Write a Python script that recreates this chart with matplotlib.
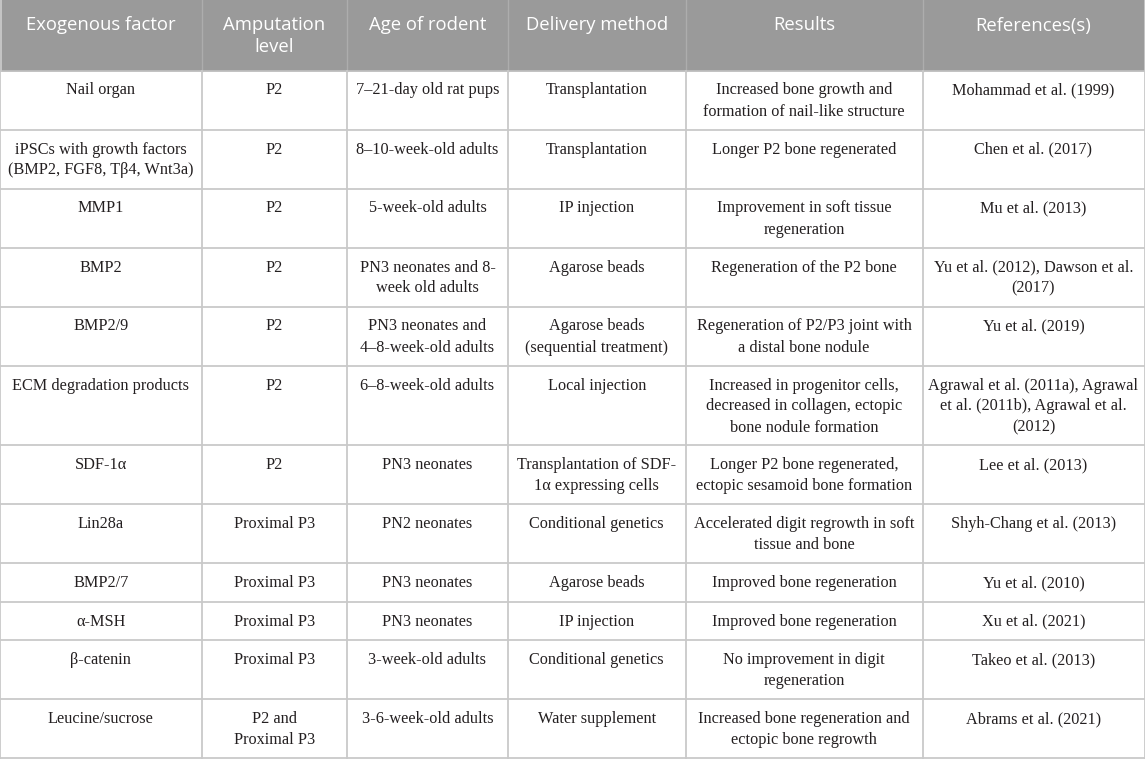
import matplotlib.pyplot as plt

# --- table content ---
headers = ["Exogenous factor", "Amputation\nlevel", "Age of rodent",
           "Delivery method", "Results", "References(s)"]

factors = ["Nail organ", "iPSCs with growth factors\n(BMP2, FGF8, Tβ4, Wnt3a)", "MMP1",
           "BMP2", "BMP2/9", "ECM degradation products", "SDF-1α", "Lin28a",
           "BMP2/7", "α-MSH", "β-catenin", "Leucine/sucrose"]
levels = ["P2", "P2", "P2", "P2", "P2", "P2", "P2", "Proximal P3", "Proximal P3",
          "Proximal P3", "Proximal P3", "P2 and\nProximal P3"]
ages = ["7–21-day old rat pups", "8–10-week-old adults", "5-week-old adults",
        "PN3 neonates and 8-\nweek old adults", "PN3 neonates and\n4–8-week-old adults",
        "6–8-week-old adults", "PN3 neonates", "PN2 neonates", "PN3 neonates",
        "PN3 neonates", "3-week-old adults", "3-6-week-old adults"]
delivery = ["Transplantation", "Transplantation", "IP injection", "Agarose beads",
            "Agarose beads\n(sequential treatment)", "Local injection",
            "Transplantation of SDF-\n1α expressing cells", "Conditional genetics",
            "Agarose beads", "IP injection", "Conditional genetics", "Water supplement"]
results = ["Increased bone growth and\nformation of nail-like structure",
           "Longer P2 bone regenerated",
           "Improvement in soft tissue\nregeneration",
           "Regeneration of the P2 bone",
           "Regeneration of P2/P3 joint with\na distal bone nodule",
           "Increased in progenitor cells,\ndecreased in collagen, ectopic\nbone nodule formation",
           "Longer P2 bone regenerated,\nectopic sesamoid bone formation",
           "Accelerated digit regrowth in soft\ntissue and bone",
           "Improved bone regeneration",
           "Improved bone regeneration",
           "No improvement in digit\nregeneration",
           "Increased bone regeneration and\nectopic bone regrowth"]
refs = ["Mohammad et al. (1999)", "Chen et al. (2017)", "Mu et al. (2013)",
        "Yu et al. (2012), Dawson et al.\n(2017)", "Yu et al. (2019)",
        "Agrawal et al. (2011a), Agrawal\net al. (2011b), Agrawal et al.\n(2012)",
        "Lee et al. (2013)", "Shyh-Chang et al. (2013)", "Yu et al. (2010)",
        "Xu et al. (2021)", "Takeo et al. (2013)", "Abrams et al. (2021)"]

columns = [factors, levels, ages, delivery, results, refs]

# --- layout (pixels) ---
W, H = 1145, 761
col_edges = [0, 201.5, 347, 508, 685.5, 922.5, 1144.5]
header_h = 70.5
line_gap = 21.0
header_bg = "#9a9a9a"
grid_col = "#c9c9c9"
text_col = "#231f20"

fig = plt.figure(figsize=(W / 100, H / 100), dpi=100)
ax = fig.add_axes([0, 0, 1, 1])
ax.set_xlim(0, W)
ax.set_ylim(H, 0)
ax.axis("off")

# header
ax.add_patch(plt.Rectangle((0, 0), col_edges[-1], header_h, color=header_bg, lw=0))
for c, h in enumerate(headers):
    cx = (col_edges[c] + col_edges[c + 1]) / 2
    for i, ln in enumerate(h.split("\n")):
        ax.text(cx, 30.5 + 22 * i, ln, ha="center", va="baseline", color="white",
                fontsize=13.3, family="Open Sans")
for x in col_edges[1:-1]:
    ax.plot([x, x], [0, header_h], color="#adadad", lw=1.0)

# body rows
n_lines = [max(col[r].count("\n") + 1 for col in columns) for r in range(len(factors))]
y = header_h
row_tops = []
for n in n_lines:
    row_tops.append(y)
    y += 18 + 20.5 * n
bottom = y

for r, top in enumerate(row_tops):
    for c, col in enumerate(columns):
        cx = (col_edges[c] + col_edges[c + 1]) / 2
        for i, ln in enumerate(col[r].split("\n")):
            ax.text(cx, top + 24 + line_gap * i, ln, ha="center", va="baseline",
                    color=text_col, fontsize=11.7, family="Liberation Serif")

# grid lines
for t in row_tops[1:] + [bottom]:
    ax.plot([0, col_edges[-1]], [t, t], color=grid_col, lw=1.3)
ax.plot([0, col_edges[-1]], [header_h, header_h], color="#bdbdbd", lw=1.3)
for x in col_edges:
    ax.plot([x, x], [header_h, bottom], color=grid_col, lw=1.3)
ax.plot([0.5, 0.5], [0, header_h], color=grid_col, lw=1.3)
ax.plot([col_edges[-1]] * 2, [0, header_h], color=grid_col, lw=1.3)

fig.savefig("out.png", dpi=100)
